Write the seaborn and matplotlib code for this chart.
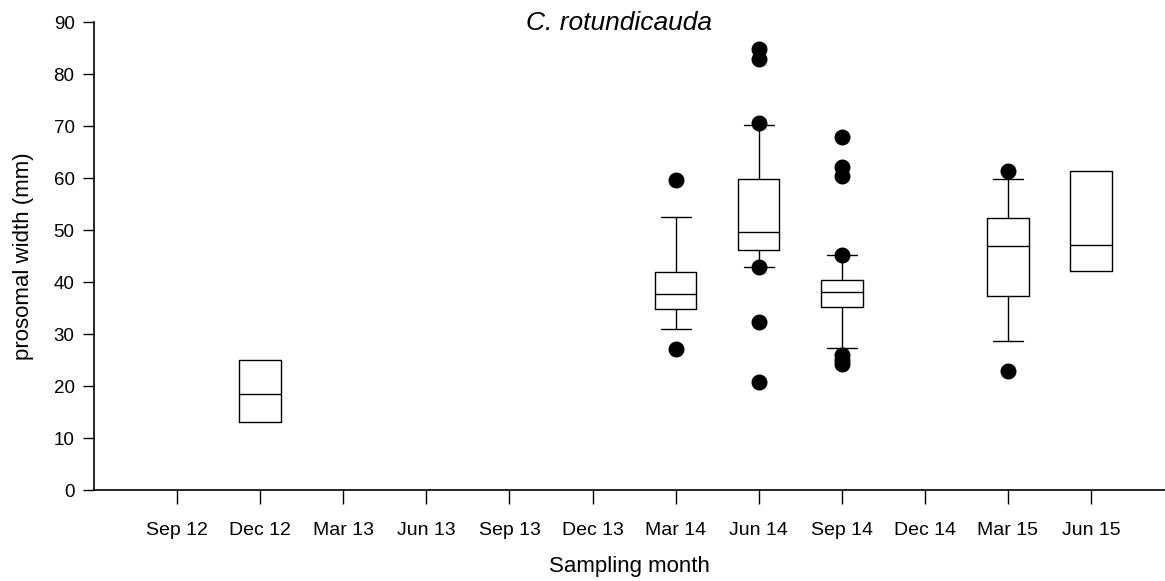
import matplotlib
matplotlib.use('Agg')
import matplotlib.pyplot as plt
import seaborn as sns

# Sampling months (x categories)
months = ['Sep 12', 'Dec 12', 'Mar 13', 'Jun 13', 'Sep 13', 'Dec 13',
          'Mar 14', 'Jun 14', 'Sep 14', 'Dec 14', 'Mar 15', 'Jun 15']

# Box statistics for the months that have data
box_months = ['Dec 12', 'Mar 14', 'Jun 14', 'Sep 14', 'Mar 15', 'Jun 15']
q1 = [13.0, 34.9, 46.2, 35.2, 37.3, 42.2]
median = [18.5, 37.7, 49.6, 38.1, 46.9, 47.2]
q3 = [25.0, 42.0, 59.8, 40.4, 52.4, 61.3]
whisker_low = [13.0, 31.0, 42.9, 27.4, 28.6, 42.2]
whisker_high = [25.0, 52.5, 70.2, 45.1, 59.8, 61.3]
has_whiskers = [False, True, True, True, True, False]
outliers = [
    [],
    [59.6, 27.1],
    [84.8, 82.8, 70.6, 42.8, 32.3, 20.7],
    [67.9, 62.1, 60.4, 45.1, 26.0, 25.0, 24.3],
    [61.3, 22.9],
    [],
]

sns.set_style('ticks')
plt.rcParams['font.family'] = ['Liberation Sans', 'DejaVu Sans']
plt.rcParams['text.color'] = 'black'
plt.rcParams['axes.labelcolor'] = 'black'
plt.rcParams['xtick.color'] = 'black'
plt.rcParams['ytick.color'] = 'black'

fig = plt.figure(figsize=(11.65, 5.81), dpi=100)
ax = fig.add_axes([0.0807, 0.1566, 0.92, 0.8055])

stats = []
for i in range(len(box_months)):
    stats.append({
        'med': median[i], 'q1': q1[i], 'q3': q3[i],
        'whislo': whisker_low[i], 'whishi': whisker_high[i],
        'fliers': outliers[i],
    })

positions = [months.index(m) for m in box_months]

line = dict(color='black', linewidth=1.0)
for st, pos, wh in zip(stats, positions, has_whiskers):
    ax.bxp([st], positions=[pos], widths=0.5, showcaps=wh,
           boxprops=line, medianprops=line,
           whiskerprops=line if wh else dict(linewidth=0),
           capprops=line, capwidths=0.36,
           flierprops=dict(marker='o', markerfacecolor='black',
                           markeredgecolor='black', markersize=10.5))

ax.set_xlim(-1, 11.9)
ax.set_ylim(0, 90)
ax.set_yticks(range(0, 91, 10))
ax.set_xticks(range(len(months)))
ax.set_xticklabels(months, fontsize=14)
ax.tick_params(axis='y', labelsize=13.5, length=8, width=1, direction='out', pad=6)
ax.tick_params(axis='x', length=10, width=1, direction='out', pad=13)
ax.spines['top'].set_visible(False)
ax.spines['right'].set_visible(False)
for s in ['left', 'bottom']:
    ax.spines[s].set_linewidth(1.2)
    ax.spines[s].set_color('black')

ax.set_xlabel('Sampling month', fontsize=16, labelpad=12)
ax.set_ylabel('prosomal width (mm)', fontsize=16, labelpad=14)
ax.text(0.49, 0.997, 'C. rotundicauda', transform=ax.transAxes,
        ha='center', va='center', fontsize=19, style='italic')

fig.savefig('out.png', dpi=100)
